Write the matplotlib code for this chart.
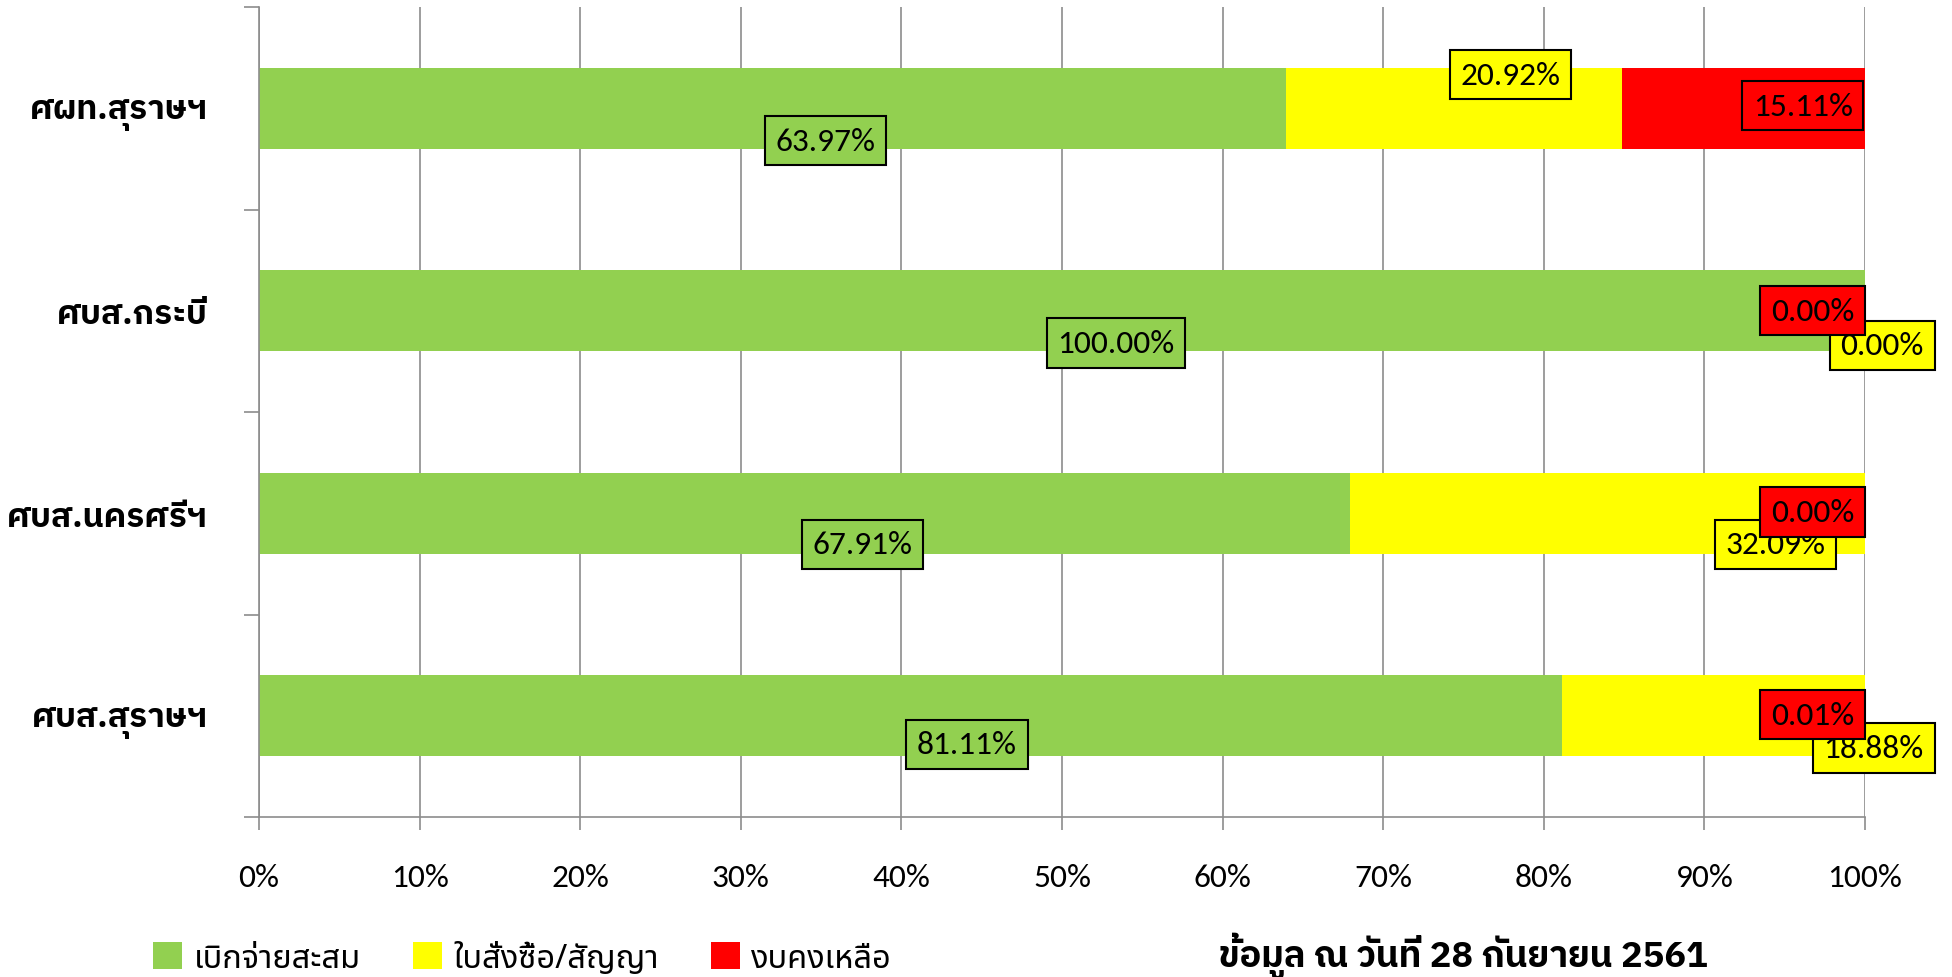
import matplotlib
matplotlib.use("Agg")
import matplotlib.pyplot as plt
from matplotlib.patches import Patch

THAI = ['Noto Sans Thai', 'IBM Plex Sans Thai', 'DejaVu Sans']
THAI_BOLD = ['IBM Plex Sans Thai', 'Noto Sans Thai', 'DejaVu Sans']
NUM = ['Carlito', 'Noto Sans Thai', 'DejaVu Sans']
plt.rcParams['font.family'] = THAI

# bottom -> top, as the bars are stacked in the chart
centres = ["ศบส.สุราษฯ", "ศบส.นครศรีฯ", "ศบส.กระบี่", "ศผท.สุราษฯ"]
spent = [81.11, 67.91, 100.00, 63.97]
committed = [18.88, 32.09, 0.00, 20.92]
remaining = [0.01, 0.00, 0.00, 15.11]
series_names = ["เบิกจ่ายสะสม", "ใบสั่งซื้อ/สัญญา", "งบคงเหลือ"]
colors = ["#92D050", "#FFFF00", "#FF0000"]
x_ticks = list(range(0, 101, 10))
note = "ข้อมูล ณ วันที่ 28 กันยายน 2561"

# label offsets in points from the middle of each segment (hand placed in the original)
label_offsets = [
    [(40.8, -20.6), (42.1, -22.4), (39.0, -23.3), (38.0, -23.3)],
    [(115.6, -23.3), (121.0, -22.4), (12.5, -25.0), (40.3, 24.2)],
    [(-37.6, 0.9), (-37.6, 0.9), (-37.6, 0.0), (42.6, 1.8)],
]

grey = "#8c8c8c"

fig = plt.figure(figsize=(19.52, 9.78), dpi=100)
ax = fig.add_axes([0.1327, 0.1636, 0.8227, 0.8282])

ypos = list(range(len(centres)))
series = [spent, committed, remaining]
lefts = [0.0] * len(centres)
for vals, col, offs in zip(series, colors, label_offsets):
    ax.barh(ypos, vals, left=lefts, height=0.4, color=col, zorder=2)
    for i, v in enumerate(vals):
        mid = lefts[i] + v / 2
        ax.annotate(f"{v:.2f}%", (mid, ypos[i]), xytext=offs[i], textcoords='offset points',
                    ha='center', va='center', fontsize=24, family=NUM, zorder=5,
                    annotation_clip=False,
                    bbox=dict(boxstyle='square,pad=0.32', fc=col, ec='black', lw=1.5))
    lefts = [l + v for l, v in zip(lefts, vals)]

ax.set_xlim(0, 100)
ax.set_ylim(-0.5, len(centres) - 0.5)
ax.set_xticks(x_ticks)
ax.set_xticklabels([f"{t}%" for t in x_ticks], family=NUM, fontsize=24)
ax.xaxis.grid(True, color=grey, linewidth=1.2, zorder=0)
ax.set_axisbelow(True)
ax.tick_params(axis='x', direction='out', length=9.5, width=1.2, color=grey, pad=23.5)

ax.set_yticks([y - 0.5 for y in range(len(centres) + 1)])
ax.set_yticklabels([])
ax.set_yticks(ypos, minor=True)
ax.set_yticklabels(centres, minor=True, fontsize=24, fontweight='bold', family=THAI_BOLD)
ax.tick_params(axis='y', which='major', direction='out', length=10.8, width=1.2, color=grey)
ax.tick_params(axis='y', which='minor', length=0, pad=37)

for s in ['top', 'right']:
    ax.spines[s].set_visible(False)
for s in ['left', 'bottom']:
    ax.spines[s].set_color(grey)
    ax.spines[s].set_linewidth(1.2)

handles = [Patch(facecolor=c, edgecolor='none') for c in colors]
fig.legend(handles, series_names, loc='center left', bbox_to_anchor=(0.0633, 0.019),
           ncol=3, frameon=False, fontsize=23.5, handlelength=0.9, handleheight=0.9,
           handletextpad=0.34, columnspacing=1.6)

fig.text(0.7495, 0.022, note, ha='center', va='center', fontsize=26, fontweight='bold',
         family=THAI_BOLD)

fig.savefig("out.png", dpi=100)
